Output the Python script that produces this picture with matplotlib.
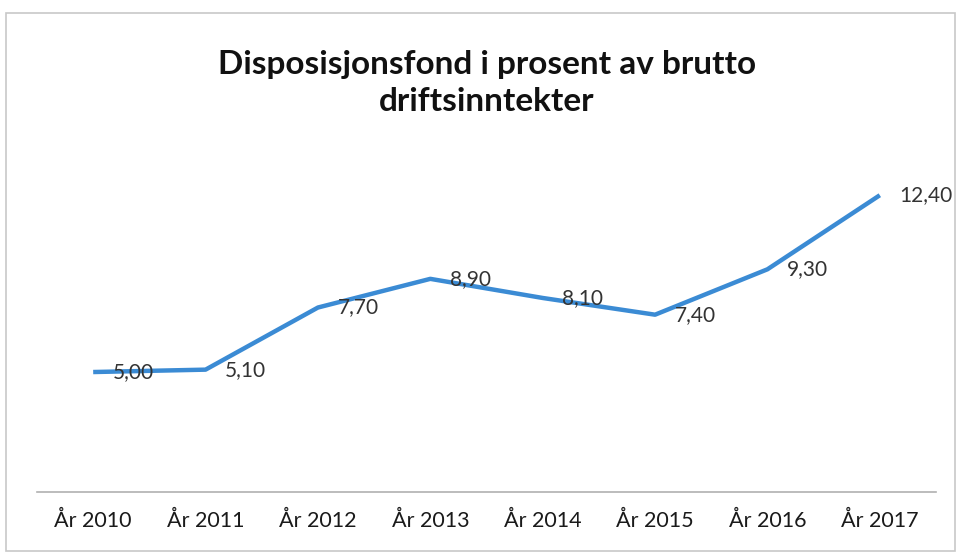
import matplotlib
matplotlib.use('Agg')
import matplotlib.pyplot as plt
from matplotlib.patches import Rectangle

years = ['År 2010', 'År 2011', 'År 2012', 'År 2013', 'År 2014', 'År 2015', 'År 2016', 'År 2017']
values = [5.00, 5.10, 7.70, 8.90, 8.10, 7.40, 9.30, 12.40]
value_labels = ['5,00', '5,10', '7,70', '8,90', '8,10', '7,40', '9,30', '12,40']
title = 'Disposisjonsfond i prosent av brutto\ndriftsinntekter'

plt.rcParams['font.family'] = ['Lato', 'DejaVu Sans']

W, H = 958, 553
fig = plt.figure(figsize=(W / 100, H / 100), dpi=100)
fig.patch.set_facecolor('white')

# chart frame (scanned border)
fig.add_artist(Rectangle((6 / W, 2 / H), 949 / W, (H - 15) / H, transform=fig.transFigure,
                         fill=False, ec='#c8c8c8', lw=1.2))

ax = fig.add_axes([37 / W, 61.5 / H, 899 / W, 334.5 / H])
x = list(range(len(years)))
ax.plot(x, values, color='#3b8bd4', lw=3.2, solid_joinstyle='round', solid_capstyle='butt')
ax.set_xlim(-0.5, len(years) - 0.5)
ax.set_ylim(0, 14)

for xi, v, lab in zip(x, values, value_labels):
    ax.annotate(lab, (xi, v), xytext=(14, 0), textcoords='offset points',
                ha='left', va='center', fontsize=15, color='#333333')

ax.set_xticks(x)
ax.set_xticklabels(years, fontsize=15.5, color='#1a1a1a')
ax.tick_params(axis='x', length=0, pad=14)
ax.set_yticks([])
for side in ('left', 'right', 'top'):
    ax.spines[side].set_visible(False)
ax.spines['bottom'].set_color('#b0b0b0')
ax.spines['bottom'].set_linewidth(1.2)

fig.text(487 / W, 1 - 83 / H, title, ha='center', va='center', fontsize=24,
         fontweight='bold', color='#111111', linespacing=1.3)

fig.savefig('out.png', dpi=100)
